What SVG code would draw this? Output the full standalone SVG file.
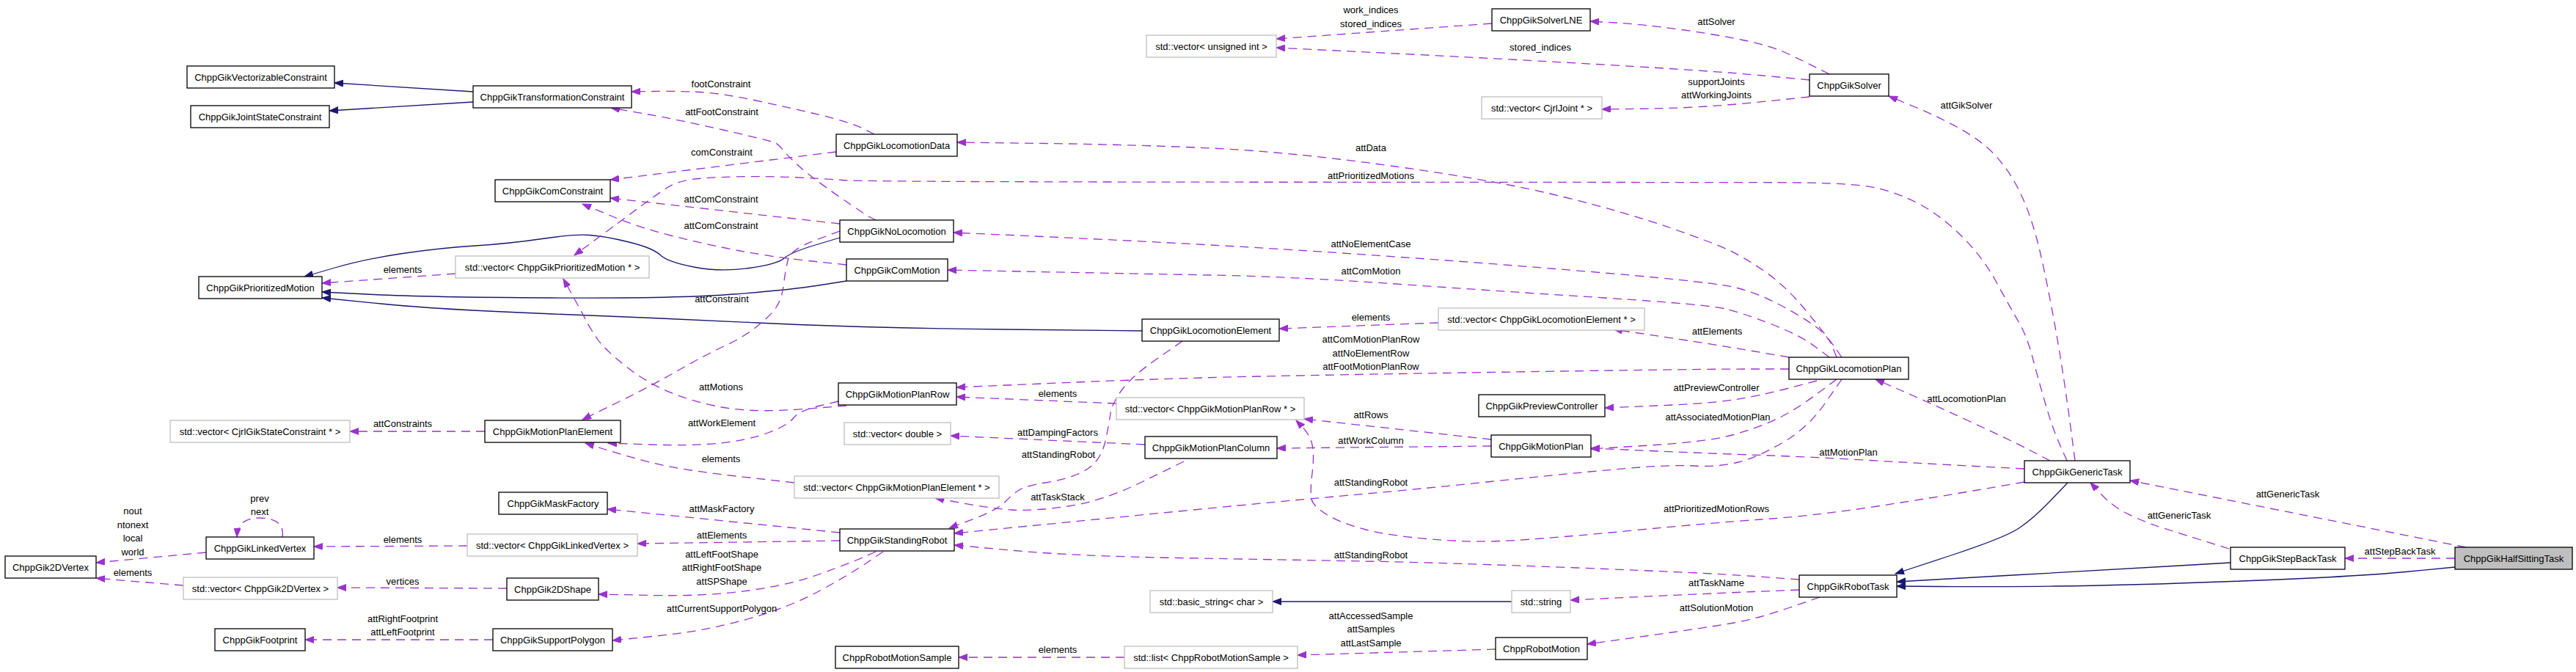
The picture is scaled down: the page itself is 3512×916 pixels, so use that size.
<svg xmlns="http://www.w3.org/2000/svg" width="3512" height="916" viewBox="0 0 3512 916">
<style>
text{font-family:"Liberation Sans",Arial,Helvetica,sans-serif;font-size:13px;fill:#000;text-anchor:middle}
.n rect{fill:#fff;stroke:#000;stroke-width:1.3}
.s rect{fill:#fff;stroke:#bfbfbf;stroke-width:1.3}
.h rect{fill:#bfbfbf;stroke:#000;stroke-width:1.3}
.inh{fill:none;stroke:#191970;stroke-width:1.3;marker-end:url(#ab)}
.use{fill:none;stroke:#9a32cd;stroke-width:1.3;stroke-dasharray:12,8;marker-end:url(#ap)}
</style>
<defs>
<marker id="ab" markerWidth="13" markerHeight="10" refX="12" refY="4.5" orient="auto" markerUnits="userSpaceOnUse"><path d="M0,0 L12,4.5 L0,9 z" fill="#191970" stroke="#191970" stroke-width="1" stroke-dasharray="none"/></marker>
<marker id="ap" markerWidth="13" markerHeight="10" refX="12" refY="4.5" orient="auto" markerUnits="userSpaceOnUse"><path d="M0,0 L12,4.5 L0,9 z" fill="#9a32cd" stroke="#9a32cd" stroke-width="1" stroke-dasharray="none"/></marker>
</defs>
<rect width="3512" height="916" fill="#fff"/>
<g id="edges">
<path class="inh" d="M645,125 L456,113"/>
<path class="inh" d="M645,139 L449,151"/>
<path class="inh" d="M1145,324 L1111.5,334 Q1078,344 1069,352 Q1060,360 1021,365.5 Q982,371 946,364 Q910,357 900,347.5 Q890,338 857.5,330 Q825,322 804,320.5 Q783,319 739,325.5 Q695,332 647.5,335 Q600,338 549,345.5 Q498,353 456.5,365 L415,377"/>
<path class="inh" d="M1154,383 L1116,389 Q1078,395 1001,401 Q924,407 752,406 Q580,405 509.5,401.5 L439,398"/>
<path class="inh" d="M1557,451 L1368.5,449 Q1180,447 1033,440 Q886,433 743,427.5 Q600,422 519.5,414 L439,406"/>
<path class="inh" d="M2819,658 L2795.5,682.5 Q2772,707 2752.5,720 Q2733,733 2658.5,757.5 L2584,782"/>
<path class="inh" d="M3041,767 L2980.5,770.5 Q2920,774 2753,783.5 L2586,793"/>
<path class="inh" d="M3347,773 L3279.5,779.5 Q3212,786 3056,792 Q2900,798 2801.5,799 Q2703,800 2644.5,799.5 L2586,799"/>
<path class="inh" d="M2061,820 L1735,820"/>

<path class="use" d="M2034,32 L1740,53"/>
<path class="use" d="M2467,109 L2403.5,103 Q2340,97 2193,88.5 Q2046,80 1893,72.5 L1740,65"/>
<path class="use" d="M2494,101 L2477,92.5 Q2460,84 2438,73.5 Q2416,63 2378,55 Q2340,47 2289,40 Q2238,33 2203,31 L2168,29"/>
<path class="use" d="M2467,132 L2393.5,139.5 Q2320,147 2252,148 L2184,149"/>
<path class="use" d="M2829,628 L2823,582.5 Q2817,537 2810.5,496 Q2804,455 2795.5,411 Q2787,367 2781,342 Q2775,317 2767.5,295 Q2760,273 2748.5,251.5 Q2737,230 2720,211.5 Q2703,193 2674,176.5 Q2645,160 2610,145.5 L2575,131"/>
<path class="use" d="M2511,487 L2501.5,473.5 Q2492,460 2463.5,425 Q2435,390 2406,370 Q2377,350 2355,340 Q2333,330 2275.5,310 Q2218,290 2132,268.5 Q2046,247 1903,227 Q1760,207 1651.5,202 Q1543,197 1424,195.5 L1305,194"/>
<path class="use" d="M2818,628 L2808,605.5 Q2798,583 2788.5,550 Q2779,517 2771,487 Q2763,457 2752,438.5 Q2741,420 2722,385 Q2703,350 2674,321.5 Q2645,293 2616.5,278 Q2588,263 2557.5,256 Q2527,249 2423.5,248.75 Q2320,248.5 1750,248.25 Q1180,248 1148,245.5 Q1116,243 1077.5,241.5 Q1039,240 1001,241 Q963,242 943.5,244.5 Q924,247 911,255 Q898,263 873,281.5 Q848,300 815.5,324 L783,348"/>
<path class="use" d="M1192,183 L1176,175 Q1160,167 1119,157 Q1078,147 1030.5,137 Q983,127 953.5,125.5 Q924,124 892.5,124.5 L861,125"/>
<path class="use" d="M1194,300 L1187,296.5 Q1180,293 1144,268 Q1108,243 1091,228 Q1074,213 1068,205 Q1062,197 1056.5,194.5 Q1051,192 987.5,177.5 Q924,163 878.5,155 L833,147"/>
<path class="use" d="M1140,207 L832,245"/>
<path class="use" d="M1145,305 L832,270"/>
<path class="use" d="M1154,361 L1102.5,355.5 Q1051,350 1006.5,341.5 Q962,333 916.5,321.5 Q871,310 832.5,294 L794,278"/>
<path class="use" d="M621,373 L439,386"/>
<path class="use" d="M1145,315 L1111.5,327.5 Q1078,340 1074.5,353.5 Q1071,367 1068.5,387 Q1066,407 1058.5,418.5 Q1051,430 1032,445 Q1013,460 988,471.5 Q963,483 924.5,505 Q886,527 840,549.5 L794,572"/>
<path class="use" d="M1154,553 L1096.5,557.5 Q1039,562 1001,557.5 Q963,553 924.5,539 Q886,525 855.5,501 Q825,477 815.5,463.5 Q806,450 800,438.5 Q794,427 781,403.5 L768,380"/>
<path class="use" d="M1143,547 L1116,553.5 Q1089,560 1081.5,570 Q1074,580 1047,590 Q1020,600 982,604 Q944,608 886.5,606 L829,604"/>
<path class="use" d="M1083,658 L1003.5,649 Q924,640 886,630 Q848,620 823,612 L798,604"/>
<path class="use" d="M661,588 L477,588"/>
<path class="use" d="M385,732 C388,712 372,706 354,706 C336,706 324,712 323,732"/>
<path class="use" d="M281,753 L131,767"/>
<path class="use" d="M250,798 L201.5,794 Q153,790 142,789 L131,788"/>
<path class="use" d="M637,744 L428,745"/>
<path class="use" d="M691,802 L460,801"/>
<path class="use" d="M672,872 L416,872"/>
<path class="use" d="M1145,726 L828,694"/>
<path class="use" d="M1145,737 L869,741"/>
<path class="use" d="M1194,752 L1177,759.5 Q1160,767 1119,782 Q1078,797 1020.5,805 Q963,813 889.5,811.5 L816,810"/>
<path class="use" d="M1204,752 L1182,767 Q1160,782 1119,804.5 Q1078,827 1020.5,843.5 Q963,860 899,866.5 L835,873"/>
<path class="use" d="M1533,896 L1307,896"/>
<path class="use" d="M2039,885 L1769,893"/>
<path class="use" d="M2481,814 L2439,828.5 Q2397,843 2363.5,849 Q2330,855 2247,866.5 L2164,878"/>
<path class="use" d="M2453,804 L2391.5,806.5 Q2330,809 2235.5,813.5 L2141,818"/>
<path class="use" d="M2453,790 L2391.5,785.5 Q2330,781 2150,774 Q1970,767 1860,765 Q1750,763 1608,760.5 Q1466,758 1383.5,750.5 L1301,743"/>
<path class="use" d="M2760,657 L2693,668.5 Q2626,680 2549.5,691.5 Q2473,703 2401.5,708 Q2330,713 2226.5,723 Q2123,733 2065.5,736.5 Q2008,740 1950.5,735 Q1893,730 1860.5,721.5 Q1828,713 1809,701.5 Q1790,690 1788,680 Q1786,670 1789,645 Q1792,620 1789,606.5 Q1786,593 1776.5,583 L1767,573"/>
<path class="use" d="M2760,639 L2693,635.5 Q2626,632 2549.5,627.5 Q2473,623 2401.5,620.5 Q2330,618 2249.5,614.5 L2169,611"/>
<path class="use" d="M2795,628 L2768,614 Q2741,600 2683.5,573.5 Q2626,547 2591.5,532 L2557,517"/>
<path class="use" d="M2439,487 L2389.5,478.5 Q2340,470 2300,464 Q2260,458 2230,453.5 L2200,449"/>
<path class="use" d="M1961,440 L1744,448"/>
<path class="use" d="M2504,487 L2498,472 Q2492,457 2473,443.5 Q2454,430 2425.5,415 Q2397,400 2368.5,392.5 Q2340,385 2193,372.5 Q2046,360 1903,350 Q1760,340 1651.5,334 Q1543,328 1421.5,322.5 L1300,317"/>
<path class="use" d="M2494,487 L2474,472 Q2454,457 2415.5,442 Q2377,427 2352.5,421 Q2328,415 2187,406 Q2046,397 1903,387 Q1760,377 1651.5,375 Q1543,373 1417.5,370.5 L1292,368"/>
<path class="use" d="M2439,503 L2379.5,503 Q2320,503 2030,507.5 Q1740,512 1637.5,515 Q1535,518 1419.5,523 L1304,528"/>
<path class="use" d="M1522,550 L1304,541"/>
<path class="use" d="M1612,465 L1577.5,489 Q1543,513 1529.5,531.5 Q1516,550 1514,563.5 Q1512,577 1508,597 Q1504,617 1494.5,628.5 Q1485,640 1467.5,647 Q1450,654 1425,658 Q1400,662 1391,667 Q1382,672 1371,683.5 Q1360,695 1327,707.5 L1294,720"/>
<path class="use" d="M1561,606 L1296,594"/>
<path class="use" d="M1614,629 L1559,656 Q1504,683 1456.5,690 Q1409,697 1380,695 Q1351,693 1313,686 L1275,679"/>
<path class="use" d="M2033,599 L1778,571"/>
<path class="use" d="M2033,608 L1741,611"/>
<path class="use" d="M2504,517 L2475,538.5 Q2446,560 2421.5,571.5 Q2397,583 2363.5,592.5 Q2330,602 2249.5,607 L2169,612"/>
<path class="use" d="M2511,517 L2488,550 Q2465,583 2431,603 Q2397,623 2370,630 Q2343,637 2309.5,635 Q2276,633 2199.5,640 Q2123,647 2027,657 Q1931,667 1840.5,675 Q1750,683 1627,695 Q1504,707 1402.5,717 L1301,727"/>
<path class="use" d="M2477,519 L2437,529.5 Q2397,540 2363.5,545 Q2330,550 2259,553 L2188,556"/>
<path class="use" d="M3039,748 L2999,735.5 Q2959,723 2939.5,716.5 Q2920,710 2900,700 Q2880,690 2865,674 L2850,658"/>
<path class="use" d="M3362,746 L2904,655"/>
<path class="use" d="M3347,761 L3197,761"/>

<text x="1869" y="17.5">work_indices</text>
<text x="1869" y="36.5">stored_indices</text>
<text x="2100" y="68.5">stored_indices</text>
<text x="2340" y="33.5">attSolver</text>
<text x="2340" y="115.5">supportJoints</text>
<text x="2340" y="133.5">attWorkingJoints</text>
<text x="2681" y="147.5">attGikSolver</text>
<text x="1869" y="205.5">attData</text>
<text x="1869" y="243.5">attPrioritizedMotions</text>
<text x="983" y="118.5">footConstraint</text>
<text x="984" y="156.5">attFootConstraint</text>
<text x="984" y="211.5">comConstraint</text>
<text x="983" y="275.5">attComConstraint</text>
<text x="983" y="311.5">attComConstraint</text>
<text x="549" y="371.5">elements</text>
<text x="984" y="411.5">attConstraint</text>
<text x="1869" y="336.5">attNoElementCase</text>
<text x="1869" y="373.5">attComMotion</text>
<text x="1869" y="436.5">elements</text>
<text x="2341" y="455.5">attElements</text>
<text x="1869" y="466.5">attComMotionPlanRow</text>
<text x="1869" y="485.5">attNoElementRow</text>
<text x="1869" y="503.5">attFootMotionPlanRow</text>
<text x="983" y="531.5">attMotions</text>
<text x="2340" y="532.5">attPreviewController</text>
<text x="1442" y="540.5">elements</text>
<text x="2681" y="547.5">attLocomotionPlan</text>
<text x="1869" y="569.5">attRows</text>
<text x="2342" y="572.5">attAssociatedMotionPlan</text>
<text x="984" y="580.5">attWorkElement</text>
<text x="549" y="581.5">attConstraints</text>
<text x="1442" y="593.5">attDampingFactors</text>
<text x="1869" y="604.5">attWorkColumn</text>
<text x="2520" y="620.5">attMotionPlan</text>
<text x="1443" y="623.5">attStandingRobot</text>
<text x="983" y="629.5">elements</text>
<text x="1869" y="661.5">attStandingRobot</text>
<text x="354" y="683.5">prev</text>
<text x="354" y="701.5">next</text>
<text x="181" y="700.5">nout</text>
<text x="181" y="719.5">ntonext</text>
<text x="181" y="737.5">local</text>
<text x="181" y="756.5">world</text>
<text x="1442" y="681.5">attTaskStack</text>
<text x="3119" y="677.5">attGenericTask</text>
<text x="2340" y="697.5">attPrioritizedMotionRows</text>
<text x="984" y="697.5">attMaskFactory</text>
<text x="2971" y="706.5">attGenericTask</text>
<text x="984" y="733.5">attElements</text>
<text x="549" y="739.5">elements</text>
<text x="3272" y="755.5">attStepBackTask</text>
<text x="984" y="759.5">attLeftFootShape</text>
<text x="984" y="777.5">attRightFootShape</text>
<text x="984" y="796.5">attSPShape</text>
<text x="1869" y="760.5">attStandingRobot</text>
<text x="181" y="784.5">elements</text>
<text x="549" y="796.5">vertices</text>
<text x="2340" y="798.5">attTaskName</text>
<text x="984" y="833.5">attCurrentSupportPolygon</text>
<text x="2340" y="832.5">attSolutionMotion</text>
<text x="549" y="847.5">attRightFootprint</text>
<text x="549" y="865.5">attLeftFootprint</text>
<text x="1869" y="843.5">attAccessedSample</text>
<text x="1869" y="861.5">attSamples</text>
<text x="1869" y="880.5">attLastSample</text>
<text x="1442" y="889.5">elements</text>
</g>

<g id="ChppGikVectorizableConstraint" class="n"><rect x="255" y="90" width="201" height="30"/><text x="355.5" y="109.5">ChppGikVectorizableConstraint</text></g>
<g id="ChppGikJointStateConstraint" class="n"><rect x="260" y="144" width="189" height="30"/><text x="354.5" y="163.5">ChppGikJointStateConstraint</text></g>
<g id="ChppGikPrioritizedMotion" class="n"><rect x="271" y="377" width="168" height="30"/><text x="355" y="396.5">ChppGikPrioritizedMotion</text></g>
<g id="ChppGikTransformationConstraint" class="n"><rect x="645" y="117" width="216" height="30"/><text x="753" y="136.5">ChppGikTransformationConstraint</text></g>
<g id="ChppGikComConstraint" class="n"><rect x="675" y="245" width="157" height="30"/><text x="753.5" y="264.5">ChppGikComConstraint</text></g>
<g id="vectorPrioritizedMotion" class="s"><rect x="621" y="349" width="264" height="30"/><text x="753" y="368.5">std::vector&lt; ChppGikPrioritizedMotion * &gt;</text></g>
<g id="ChppGikLocomotionData" class="n"><rect x="1140" y="183" width="165" height="30"/><text x="1222.5" y="202.5">ChppGikLocomotionData</text></g>
<g id="ChppGikNoLocomotion" class="n"><rect x="1145" y="300" width="155" height="30"/><text x="1222.5" y="319.5">ChppGikNoLocomotion</text></g>
<g id="ChppGikComMotion" class="n"><rect x="1154" y="353" width="138" height="30"/><text x="1223" y="372.5">ChppGikComMotion</text></g>
<g id="vectorUnsignedInt" class="s"><rect x="1563" y="48" width="177" height="30"/><text x="1651.5" y="67.5">std::vector&lt; unsigned int &gt;</text></g>
<g id="ChppGikLocomotionElement" class="n"><rect x="1557" y="435" width="187" height="30"/><text x="1650.5" y="454.5">ChppGikLocomotionElement</text></g>
<g id="ChppGikSolverLNE" class="n"><rect x="2034" y="12" width="134" height="30"/><text x="2101" y="31.5">ChppGikSolverLNE</text></g>
<g id="vectorCjrlJoint" class="s"><rect x="2020" y="132" width="164" height="30"/><text x="2102" y="151.5">std::vector&lt; CjrlJoint * &gt;</text></g>
<g id="vectorLocomotionElement" class="s"><rect x="1961" y="420" width="281" height="30"/><text x="2101.5" y="439.5">std::vector&lt; ChppGikLocomotionElement * &gt;</text></g>
<g id="ChppGikSolver" class="n"><rect x="2467" y="101" width="108" height="30"/><text x="2521" y="120.5">ChppGikSolver</text></g>
<g id="vectorCjrlGikStateConstraint" class="s"><rect x="232" y="573" width="245" height="30"/><text x="354.5" y="592.5">std::vector&lt; CjrlGikStateConstraint * &gt;</text></g>
<g id="ChppGikLinkedVertex" class="n"><rect x="281" y="732" width="147" height="30"/><text x="354.5" y="751.5">ChppGikLinkedVertex</text></g>
<g id="ChppGik2DVertex" class="n"><rect x="7" y="758" width="124" height="30"/><text x="69" y="777.5">ChppGik2DVertex</text></g>
<g id="vector2DVertex" class="s"><rect x="250" y="787" width="210" height="30"/><text x="355" y="806.5">std::vector&lt; ChppGik2DVertex &gt;</text></g>
<g id="ChppGikFootprint" class="n"><rect x="293" y="857" width="123" height="30"/><text x="354.5" y="876.5">ChppGikFootprint</text></g>
<g id="ChppGikMotionPlanElement" class="n"><rect x="661" y="573" width="185" height="30"/><text x="753.5" y="592.5">ChppGikMotionPlanElement</text></g>
<g id="ChppGikMaskFactory" class="n"><rect x="680" y="671" width="148" height="30"/><text x="754" y="690.5">ChppGikMaskFactory</text></g>
<g id="vectorLinkedVertex" class="s"><rect x="637" y="728" width="232" height="30"/><text x="753" y="747.5">std::vector&lt; ChppGikLinkedVertex &gt;</text></g>
<g id="ChppGik2DShape" class="n"><rect x="691" y="788" width="125" height="30"/><text x="753.5" y="807.5">ChppGik2DShape</text></g>
<g id="ChppGikSupportPolygon" class="n"><rect x="672" y="857" width="163" height="30"/><text x="753.5" y="876.5">ChppGikSupportPolygon</text></g>
<g id="ChppGikMotionPlanRow" class="n"><rect x="1143" y="522" width="161" height="30"/><text x="1223.5" y="541.5">ChppGikMotionPlanRow</text></g>
<g id="vectorDouble" class="s"><rect x="1151" y="576" width="145" height="30"/><text x="1223.5" y="595.5">std::vector&lt; double &gt;</text></g>
<g id="vectorMotionPlanElement" class="s"><rect x="1083" y="649" width="279" height="30"/><text x="1222.5" y="668.5">std::vector&lt; ChppGikMotionPlanElement * &gt;</text></g>
<g id="ChppGikStandingRobot" class="n"><rect x="1145" y="721" width="156" height="30"/><text x="1223" y="740.5">ChppGikStandingRobot</text></g>
<g id="ChppRobotMotionSample" class="n"><rect x="1139" y="881" width="168" height="30"/><text x="1223" y="900.5">ChppRobotMotionSample</text></g>
<g id="vectorMotionPlanRow" class="s"><rect x="1522" y="542" width="256" height="30"/><text x="1650" y="561.5">std::vector&lt; ChppGikMotionPlanRow * &gt;</text></g>
<g id="ChppGikMotionPlanColumn" class="n"><rect x="1561" y="595" width="180" height="30"/><text x="1651" y="614.5">ChppGikMotionPlanColumn</text></g>
<g id="basicStringChar" class="s"><rect x="1568" y="805" width="167" height="30"/><text x="1651.5" y="824.5">std::basic_string&lt; char &gt;</text></g>
<g id="listRobotMotionSample" class="s"><rect x="1533" y="881" width="236" height="30"/><text x="1651" y="900.5">std::list&lt; ChppRobotMotionSample &gt;</text></g>
<g id="ChppGikPreviewController" class="n"><rect x="2016" y="538" width="172" height="30"/><text x="2102" y="557.5">ChppGikPreviewController</text></g>
<g id="ChppGikMotionPlan" class="n"><rect x="2033" y="593" width="136" height="30"/><text x="2101" y="612.5">ChppGikMotionPlan</text></g>
<g id="stdString" class="s"><rect x="2061" y="805" width="80" height="30"/><text x="2101" y="824.5">std::string</text></g>
<g id="ChppRobotMotion" class="n"><rect x="2039" y="869" width="125" height="30"/><text x="2101.5" y="888.5">ChppRobotMotion</text></g>
<g id="ChppGikLocomotionPlan" class="n"><rect x="2439" y="487" width="163" height="30"/><text x="2520.5" y="506.5">ChppGikLocomotionPlan</text></g>
<g id="ChppGikGenericTask" class="n"><rect x="2760" y="628" width="144" height="30"/><text x="2832" y="647.5">ChppGikGenericTask</text></g>
<g id="ChppGikRobotTask" class="n"><rect x="2453" y="784" width="133" height="30"/><text x="2519.5" y="803.5">ChppGikRobotTask</text></g>
<g id="ChppGikStepBackTask" class="n"><rect x="3041" y="746" width="156" height="30"/><text x="3119" y="765.5">ChppGikStepBackTask</text></g>
<g id="ChppGikHalfSittingTask" class="h"><rect x="3347" y="746" width="160" height="30"/><text x="3427" y="765.5">ChppGikHalfSittingTask</text></g>
</svg>
